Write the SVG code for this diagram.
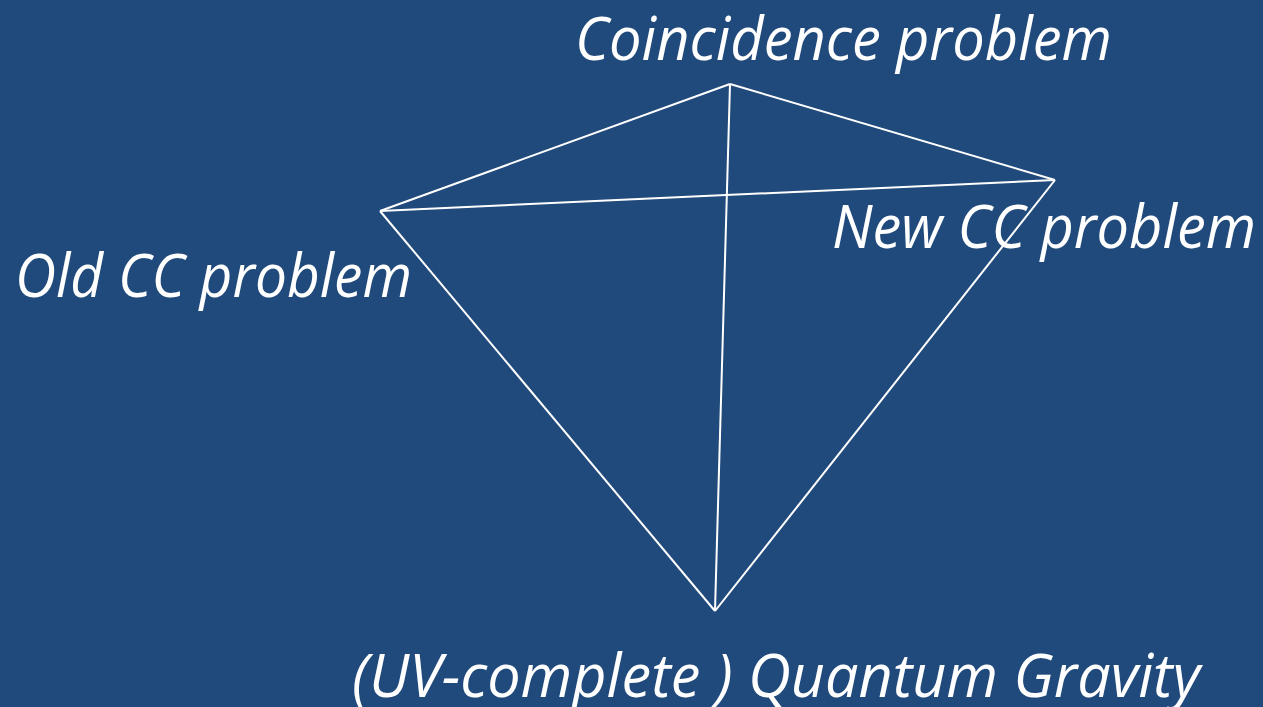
<svg xmlns="http://www.w3.org/2000/svg" width="1263" height="707" viewBox="0 0 1263 707">
<style>
.lbl{font-family:"Open Sans","Noto Sans","Liberation Sans",sans-serif;font-style:italic;font-size:60px;fill:#ffffff}
.edge{stroke:#ffffff;stroke-width:2;fill:none}
</style>
<rect width="1263" height="707" fill="#214a7c"/>
<g id="connectors">
<line class="edge" x1="730" y1="84" x2="380" y2="211"/>
<line class="edge" x1="730" y1="84" x2="1055" y2="180"/>
<line class="edge" x1="380" y1="211" x2="1055" y2="180"/>
<line class="edge" x1="730" y1="84" x2="715" y2="611"/>
<line class="edge" x1="380" y1="211" x2="715" y2="611"/>
<line class="edge" x1="1055" y1="180" x2="715" y2="611"/>
</g>
<g id="node-coincidence"><text class="lbl" x="575" y="60" textLength="537" lengthAdjust="spacingAndGlyphs">Coincidence problem</text></g>
<g id="node-old"><text class="lbl" x="15" y="297" textLength="397" lengthAdjust="spacingAndGlyphs">Old CC problem</text></g>
<g id="node-new"><text class="lbl" x="832" y="248" textLength="424" lengthAdjust="spacingAndGlyphs">New CC problem</text></g>
<g id="node-qg"><text class="lbl" x="352" y="697" textLength="848" lengthAdjust="spacingAndGlyphs">(UV-complete ) Quantum Gravity</text></g>
</svg>
